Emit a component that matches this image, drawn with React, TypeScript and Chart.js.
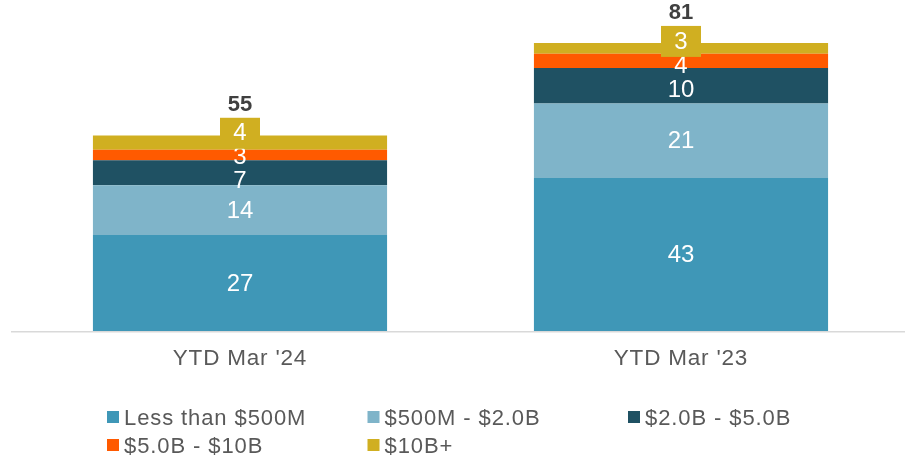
import React, { useEffect, useRef } from "react";
import { Chart, registerables } from "chart.js";

Chart.register(...registerables);

const categories = ["YTD Mar '24", "YTD Mar '23"];
const seriesNames = ["Less than $500M", "$500M - $2.0B", "$2.0B - $5.0B", "$5.0B - $10B", "$10B+"];
const lessThan500M = [27, 43];
const from500MTo2B = [14, 21];
const from2BTo5B = [7, 10];
const from5BTo10B = [3, 4];
const over10B = [4, 3];
const totals = [55, 81];
const seriesColors = ["#3F97B7", "#7FB4C9", "#1F5163", "#FF5A00", "#D0AF21"];

const FONT = "'Liberation Sans', Arial, sans-serif";

const spacingPlugin = {
  id: "spacing",
  beforeLayout(chart: any) {
    chart.ctx.letterSpacing = "0.8px";
  },
  beforeDraw(chart: any) {
    chart.ctx.letterSpacing = "0.8px";
  },
};

const axisLinePlugin = {
  id: "axisLine",
  beforeDatasetsDraw(chart: any) {
    const { ctx, chartArea, width } = chart;
    ctx.save();
    ctx.strokeStyle = "#D9D9D9";
    ctx.lineWidth = 1.5;
    ctx.beginPath();
    ctx.moveTo(11, chartArea.bottom + 0.75);
    ctx.lineTo(width, chartArea.bottom + 0.75);
    ctx.stroke();
    ctx.restore();
  },
};

const labelPlugin = {
  id: "segLabels",
  afterDatasetsDraw(chart: any) {
    const ctx = chart.ctx;
    const n = chart.data.labels.length;
    const dsCount = chart.data.datasets.length;
    const GAP = 24;
    for (let i = 0; i < n; i++) {
      const items: any[] = [];
      for (let d = 0; d < dsCount; d++) {
        const el: any = chart.getDatasetMeta(d).data[i];
        items.push({ y0: (el.y + el.base) / 2, x: el.x, top: el.y, text: String(chart.data.datasets[d].data[i]), pos: 0 });
      }
      const groups: any[] = [];
      const place = (g: any) => {
        const k = g.members.length;
        const c = g.members.reduce((s: number, m: any) => s + m.y0, 0) / k;
        g.members.forEach((m: any, j: number) => {
          m.pos = c + ((k - 1) / 2 - j) * GAP;
        });
      };
      for (const it of items) {
        const g = { members: [it] };
        place(g);
        groups.push(g);
        while (groups.length > 1) {
          const a = groups[groups.length - 2];
          const b = groups[groups.length - 1];
          const aTop = Math.min(...a.members.map((m: any) => m.pos));
          const bBottom = Math.max(...b.members.map((m: any) => m.pos));
          if (aTop - bBottom < GAP) {
            a.members = a.members.concat(b.members);
            groups.pop();
            place(a);
          } else break;
        }
      }
      ctx.save();
      ctx.letterSpacing = "0px";
      ctx.font = `24px ${FONT}`;
      ctx.textAlign = "center";
      ctx.textBaseline = "middle";
      let boxTop = Infinity;
      items.forEach((it, d) => {
        if (d === dsCount - 1) {
          ctx.fillStyle = seriesColors[d];
          ctx.fillRect(it.x - 20, it.pos - 15, 40, 31);
          boxTop = it.pos - 15;
        }
        ctx.fillStyle = "#FFFFFF";
        ctx.fillText(it.text, it.x, it.pos + 1);
      });
      const barTop = items[items.length - 1].top;
      const ref = Math.min(boxTop, barTop);
      ctx.font = `bold 22px ${FONT}`;
      ctx.fillStyle = "#404040";
      ctx.fillText(String(totals[i]), items[0].x, ref - 13);
      ctx.restore();
    }
  },
};

const legendPlugin = {
  id: "gridLegend",
  afterDraw(chart: any) {
    const { ctx, chartArea } = chart;
    const cols = 3;
    const startX = 107;
    const colW = 260.5;
    const rowH = 28;
    const top = chartArea.bottom + 80;
    ctx.save();
    ctx.letterSpacing = "0.9px";
    ctx.font = `22px ${FONT}`;
    ctx.textAlign = "left";
    ctx.textBaseline = "alphabetic";
    seriesNames.forEach((name, idx) => {
      const r = Math.floor(idx / cols);
      const c = idx % cols;
      const x = startX + c * colW;
      const y = top + r * rowH;
      ctx.fillStyle = seriesColors[idx];
      ctx.fillRect(x, y, 12, 12);
      ctx.fillStyle = "#595959";
      ctx.fillText(name, x + 17, y + 13.5);
    });
    ctx.restore();
  },
};

export default function App() {
  const ref = useRef<HTMLCanvasElement | null>(null);
  useEffect(() => {
    if (!ref.current) return;
    const seriesData = [lessThan500M, from500MTo2B, from2BTo5B, from5BTo10B, over10B];
    const chart = new Chart(ref.current, {
      type: "bar",
      data: {
        labels: categories,
        datasets: seriesData.map((data, i) => ({
          label: seriesNames[i],
          data,
          backgroundColor: seriesColors[i],
          borderWidth: 0,
          categoryPercentage: 1,
          barPercentage: 0.667,
        })),
      },
      options: {
        responsive: false,
        animation: false,
        layout: { padding: { left: 19.5, right: 3.5, top: 11, bottom: 70 } },
        plugins: { legend: { display: false }, tooltip: { enabled: false } },
        scales: {
          x: {
            stacked: true,
            grid: { display: false, drawTicks: false },
            border: { display: false },
            ticks: { font: { family: FONT, size: 22.5 }, color: "#595959", padding: 14 },
          },
          y: { stacked: true, display: false, min: 0, max: 90 },
        },
      },
      plugins: [spacingPlugin, axisLinePlugin, labelPlugin, legendPlugin],
    });
    return () => chart.destroy();
  }, []);
  return (
    <div style={{ position: "absolute", left: 0, top: 0, width: 905, height: 456 }}>
      <canvas ref={ref} width={905} height={456} style={{ display: "block" }} />
    </div>
  );
}
